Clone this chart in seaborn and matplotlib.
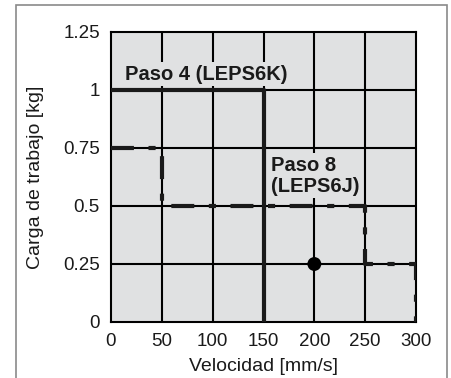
import numpy as np
import pandas as pd
import matplotlib
matplotlib.use("Agg")
import matplotlib.pyplot as plt
import seaborn as sns

# Paso 4 (LEPS6K) limit
paso4_vel = [0, 150, 150]
paso4_carga = [1.0, 1.0, 0.0]

# Paso 8 (LEPS6J) limit
paso8_vel = [0, 50, 50, 250, 250, 300, 300]
paso8_carga = [0.75, 0.75, 0.5, 0.5, 0.25, 0.25, 0.0]

# operating point
punto_vel = [200]
punto_carga = [0.25]

x_ticks = [0, 50, 100, 150, 200, 250, 300]
y_ticks = [0, 0.25, 0.5, 0.75, 1.0, 1.25]
y_labels = ["0", "0.25", "0.5", "0.75", "1", "1.25"]

sns.set_style("white")
plt.rcParams["font.family"] = ["Liberation Sans", "DejaVu Sans"]

fig = plt.figure(figsize=(4.51, 3.78), dpi=100)
ax = fig.add_axes([111 / 451, 1 - 322 / 378, 305 / 451, 290 / 378])
bg = "#e0e1e2"
ax.set_facecolor(bg)

# outer frame
fig.patches.append(plt.Rectangle((16 / 451, -0.05), 431 / 451, 1 - 5 / 378 + 0.05,
                                 transform=fig.transFigure, fill=False,
                                 edgecolor="#8a8a8a", linewidth=1.2))

for v in x_ticks[1:-1]:
    ax.axvline(v, color="black", lw=1.5, zorder=1)
for v in y_ticks[1:-1]:
    ax.axhline(v, color="black", lw=1.5, zorder=1)

df4 = pd.DataFrame({"vel": paso4_vel, "carga": paso4_carga})
df8 = pd.DataFrame({"vel": paso8_vel, "carga": paso8_carga})
sns.lineplot(data=df4, x="vel", y="carga", sort=False, estimator=None,
             color="#1a1a1a", lw=3.0, ax=ax, zorder=3)
sns.lineplot(data=df8, x="vel", y="carga", sort=False, estimator=None,
             color="#1a1a1a", lw=3.0, ax=ax, zorder=3,
             dashes=False, linestyle=(0, (5.5, 3.5, 1.7, 3.5)))
sns.scatterplot(x=punto_vel, y=punto_carga, color="black", s=100, ax=ax, zorder=4,
                edgecolor="none")

ax.text(14, 1.045, "Paso 4 (LEPS6K)", fontsize=14.5, fontweight="bold",
        ha="left", va="baseline", zorder=2, color="#1a1a1a",
        bbox=dict(facecolor=bg, edgecolor="none", pad=2))
ax.text(157, 0.715, "Paso 8\n(LEPS6J)", fontsize=14.5, fontweight="bold",
        ha="left", va="top", zorder=2, linespacing=1.1, color="#1a1a1a",
        bbox=dict(facecolor=bg, edgecolor="none", pad=2))

ax.set_xlim(0, 300)
ax.set_ylim(0, 1.25)
ax.set_xticks(x_ticks)
ax.set_yticks(y_ticks)
ax.set_yticklabels(y_labels)
ax.tick_params(length=0, labelsize=13.5, colors="#1a1a1a")
ax.tick_params(axis="x", pad=8)
ax.tick_params(axis="y", pad=8)
ax.set_xlabel("Velocidad [mm/s]", fontsize=14, labelpad=6, color="#1a1a1a")
ax.set_ylabel("Carga de trabajo [kg]", fontsize=14, labelpad=14, color="#1a1a1a")
for s in ax.spines.values():
    s.set_color("black")
    s.set_linewidth(1.5)
    s.set_visible(True)

fig.savefig("out.png", dpi=100)
